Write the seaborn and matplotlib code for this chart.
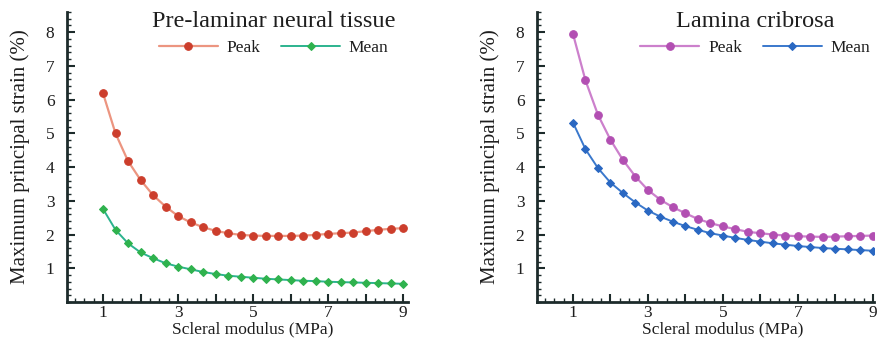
import numpy as np
import pandas as pd
import matplotlib
matplotlib.use("Agg")
import matplotlib.pyplot as plt
from matplotlib.ticker import MultipleLocator, FixedLocator
import seaborn as sns

modulus = [1 + i / 3 for i in range(25)]

pre_peak = [6.19, 5.00, 4.18, 3.62, 3.17, 2.83, 2.55, 2.36, 2.22, 2.11, 2.04, 1.99, 1.97,
            1.96, 1.96, 1.96, 1.97, 1.99, 2.02, 2.04, 2.06, 2.10, 2.14, 2.17, 2.19]
pre_mean = [2.76, 2.14, 1.74, 1.47, 1.30, 1.15, 1.05, 0.97, 0.89, 0.83, 0.78, 0.75, 0.72,
            0.69, 0.67, 0.65, 0.63, 0.62, 0.60, 0.59, 0.58, 0.57, 0.56, 0.55, 0.54]
lc_peak = [7.95, 6.57, 5.55, 4.81, 4.21, 3.72, 3.32, 3.03, 2.81, 2.63, 2.46, 2.34, 2.24,
           2.16, 2.08, 2.04, 2.00, 1.97, 1.95, 1.94, 1.93, 1.94, 1.95, 1.96, 1.97]
lc_mean = [5.32, 4.53, 3.97, 3.54, 3.23, 2.95, 2.71, 2.53, 2.38, 2.25, 2.14, 2.04, 1.97,
           1.90, 1.84, 1.79, 1.74, 1.70, 1.66, 1.63, 1.60, 1.58, 1.56, 1.54, 1.52]

titles = ["Pre-laminar neural tissue", "Lamina cribrosa"]
series_labels = ["Peak", "Mean"]
x_label = "Scleral modulus (MPa)"
y_label = "Maximum principal strain (%)"

sns.set_theme(style="ticks")
plt.rcParams['font.family'] = ['Liberation Serif', 'DejaVu Serif']

fig = plt.figure(figsize=(8.82, 3.39), dpi=100)
ax1 = fig.add_axes([67/882, 1-302/339, (408-67)/882, (302-12)/339])
ax2 = fig.add_axes([537/882, 1-302/339, (874-537)/882, (302-12)/339])

panels = [
    (ax1, titles[0], pre_peak, pre_mean, ["#cc3e2c", "#2fb24e"], ["#ec9580", "#2cb38e"],
     (0.04, 9.13), 0.999, 0.545),
    (ax2, titles[1], lc_peak, lc_mean, ["#b24fb2", "#2a68c2"], ["#cc80cc", "#3a78cc"],
     (0.04, 9.03), 1.025, 0.552),
]

spine_col = "#1d2b2b"
txt_col = "#1e1e1e"
for ax, ttl, peak, mean, mcols, lcols, xl, lx, xlab_x in panels:
    df = pd.DataFrame({
        "x": modulus * 2,
        "y": peak + mean,
        "s": [series_labels[0]] * len(peak) + [series_labels[1]] * len(mean),
    })
    sns.lineplot(data=df[df.s == series_labels[0]], x="x", y="y", ax=ax, color=lcols[0],
                 lw=1.6, marker="o", markersize=5.5, markerfacecolor=mcols[0],
                 markeredgecolor=mcols[0], label=series_labels[0])
    sns.lineplot(data=df[df.s == series_labels[1]], x="x", y="y", ax=ax, color=lcols[1],
                 lw=1.4, marker="D", markersize=4, markerfacecolor=mcols[1],
                 markeredgecolor=mcols[1], label=series_labels[1])
    ax.set_xlim(*xl)
    ax.set_ylim(0, 8.6)
    ax.xaxis.set_major_locator(MultipleLocator(1))
    ax.xaxis.set_minor_locator(MultipleLocator(0.25))
    ax.yaxis.set_major_locator(FixedLocator([1, 2, 3, 4, 5, 6, 7, 8]))
    ax.yaxis.set_minor_locator(MultipleLocator(0.2))
    ax.set_xticklabels([str(int(t)) if int(t) % 2 == 1 else "" for t in ax.get_xticks()])
    ax.tick_params(axis="both", which="major", direction="in", length=6, width=1.5,
                   colors=spine_col, labelsize=12.5, labelcolor=txt_col)
    ax.tick_params(axis="x", which="major", pad=2)
    ax.tick_params(axis="y", which="major", pad=9)
    ax.tick_params(axis="both", which="minor", direction="in", length=3, width=1.0,
                   colors=spine_col)
    for s in ["top", "right"]:
        ax.spines[s].set_visible(False)
    for s in ["left", "bottom"]:
        ax.spines[s].set_color(spine_col)
        ax.spines[s].set_linewidth(2)
    ax.set_xlabel(x_label, fontsize=12.5, color=txt_col)
    ax.xaxis.set_label_coords(xlab_x, -0.068, transform=ax.transAxes)
    ax.xaxis.label.set_va("top")
    ax.set_ylabel(y_label, fontsize=15, labelpad=11, color=txt_col)
    leg = ax.legend(title=ttl, ncol=2, frameon=False,
                    loc="upper right", bbox_to_anchor=(lx, 1.045), fontsize=12.5,
                    title_fontsize=17.5, handlelength=3.4, columnspacing=1.2,
                    handletextpad=0.5, borderpad=0.2, labelspacing=0.45)
    leg.get_title().set_color(txt_col)
    for t in leg.get_texts():
        t.set_color(txt_col)

fig.savefig("out.png", dpi=100)
